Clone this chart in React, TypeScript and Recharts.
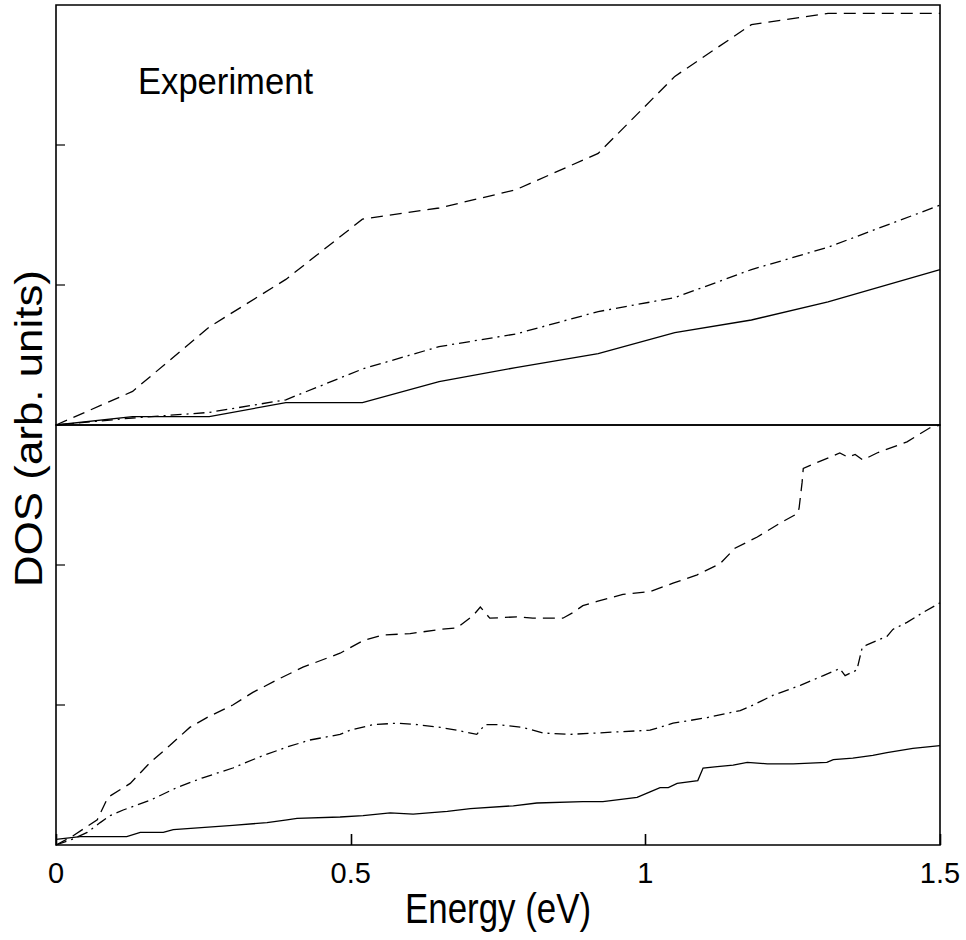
import { LineChart, Line, XAxis, YAxis, ReferenceArea, ReferenceLine } from "recharts"

// upper panel (Experiment): shared energy grid
const topEnergy = [0, 0.13, 0.26, 0.39, 0.52, 0.65, 0.78, 0.92, 1.05, 1.18, 1.31, 1.5]
const topDashed = [0, 0.24, 0.7, 1.04, 1.47, 1.55, 1.68, 1.94, 2.49, 2.86, 2.94, 2.94]
const topDashDot = [0, 0.05, 0.09, 0.18, 0.4, 0.56, 0.65, 0.81, 0.91, 1.11, 1.27, 1.57]
const topSolid = [0, 0.06, 0.06, 0.16, 0.16, 0.31, 0.41, 0.51, 0.66, 0.75, 0.88, 1.11]

// lower panel: each curve has its own energy samples
const lowDashedE = [0, 0.027, 0.07, 0.088, 0.126, 0.16, 0.193, 0.227, 0.256, 0.3, 0.334, 0.38, 0.419, 0.482, 0.521, 0.555, 0.601, 0.652, 0.68, 0.708, 0.72, 0.736, 0.782, 0.809, 0.86, 0.877, 0.894, 0.918, 0.962, 1.008, 1.047, 1.088, 1.127, 1.152, 1.19, 1.229, 1.259, 1.261, 1.266, 1.268, 1.296, 1.33, 1.344, 1.356, 1.369, 1.393, 1.444, 1.483, 1.5]
const lowDashedDos = [0, 0.06, 0.18, 0.34, 0.44, 0.59, 0.71, 0.84, 0.91, 1.0, 1.09, 1.19, 1.27, 1.37, 1.46, 1.5, 1.51, 1.54, 1.55, 1.64, 1.7, 1.62, 1.63, 1.62, 1.62, 1.66, 1.71, 1.74, 1.79, 1.81, 1.87, 1.93, 2.01, 2.12, 2.2, 2.3, 2.37, 2.41, 2.59, 2.69, 2.74, 2.8, 2.77, 2.79, 2.75, 2.8, 2.88, 2.98, 3.0]

const lowDashDotE = [0, 0.027, 0.053, 0.075, 0.092, 0.114, 0.16, 0.205, 0.249, 0.3, 0.346, 0.392, 0.431, 0.482, 0.499, 0.538, 0.579, 0.613, 0.652, 0.68, 0.714, 0.728, 0.748, 0.792, 0.826, 0.872, 0.918, 0.962, 1.008, 1.047, 1.105, 1.161, 1.178, 1.217, 1.263, 1.302, 1.33, 1.339, 1.359, 1.368, 1.376, 1.41, 1.42, 1.444, 1.471, 1.5]
const lowDashDotDos = [0, 0.04, 0.09, 0.16, 0.21, 0.25, 0.32, 0.41, 0.48, 0.55, 0.63, 0.7, 0.75, 0.79, 0.82, 0.86, 0.87, 0.86, 0.84, 0.82, 0.79, 0.86, 0.86, 0.84, 0.8, 0.79, 0.8, 0.81, 0.82, 0.87, 0.91, 0.96, 0.99, 1.07, 1.14, 1.21, 1.26, 1.21, 1.25, 1.41, 1.43, 1.49, 1.54, 1.59, 1.66, 1.73]

const lowSolidE = [0, 0.041, 0.12, 0.143, 0.182, 0.199, 0.3, 0.358, 0.392, 0.409, 0.482, 0.521, 0.567, 0.606, 0.664, 0.703, 0.776, 0.816, 0.894, 0.928, 0.986, 1.008, 1.025, 1.039, 1.054, 1.089, 1.098, 1.122, 1.149, 1.173, 1.207, 1.251, 1.308, 1.319, 1.352, 1.386, 1.41, 1.454, 1.5]
const lowSolidDos = [0.04, 0.06, 0.06, 0.09, 0.09, 0.11, 0.14, 0.16, 0.18, 0.19, 0.2, 0.21, 0.23, 0.22, 0.24, 0.26, 0.28, 0.3, 0.31, 0.31, 0.34, 0.38, 0.41, 0.41, 0.44, 0.46, 0.55, 0.56, 0.57, 0.59, 0.58, 0.58, 0.59, 0.61, 0.62, 0.64, 0.66, 0.69, 0.71]

const xTicks = [0, 0.5, 1, 1.5]
const yTicks = [1, 2]
const X_MAX = 1.5

const zip = (e: number[], v: number[]) => e.map((x, i) => ({ x, y: v[i] }))

const topRows = topEnergy.map((x, i) => ({ x, dashed: topDashed[i], dashdot: topDashDot[i], solid: topSolid[i] }))
const lowDashed = zip(lowDashedE, lowDashedDos)
const lowDashDot = zip(lowDashDotE, lowDashDotDos)
const lowSolid = zip(lowSolidE, lowSolidDos)

// page layout
const W = 966
const M_LEFT = 56
const M_RIGHT = 26
const PLOT_W = W - M_LEFT - M_RIGHT
const LOW_TOP = 420
const PANEL_H = 420
const LOW_BOTTOM = LOW_TOP + 5 + PANEL_H

const FONT = '"Liberation Sans", Arial, Helvetica, sans-serif'
const DASHED = "12 7"
const DASHDOT = "11 5 2 5"
const LW = 1.3

// short inward mark at the left end of a horizontal reference line
const LeftMark = (p: any) => {
  const x = Math.min(p.x1, p.x2)
  return <path d={`M${x},${p.y1}h9`} stroke="#000" strokeWidth={1.2} fill="none" />
}

const XLabel = (props: any) => (
  <text x={props.x} y={props.y + 38} textAnchor="middle" fontSize={29} fontFamily={FONT} fill="#000">
    {props.payload.value}
  </text>
)

function PanelFrame() {
  return [
    <ReferenceArea key="box" x1={0} x2={X_MAX} y1={0} y2={3} fill="none" fillOpacity={0} stroke="#000" strokeWidth={1.6} />,
    ...yTicks.map((v) => <ReferenceLine key={`y${v}`} y={v} shape={LeftMark} />),
  ]
}

export default function App() {
  return (
    <div style={{ position: "absolute", left: 0, top: 0, width: W, height: 940, background: "#fff" }}>
      <div style={{ position: "absolute", left: 0, top: 0 }}>
        <LineChart width={W} height={430} data={topRows} margin={{ top: 5, right: M_RIGHT, bottom: 5, left: M_LEFT }}>
          <XAxis dataKey="x" type="number" domain={[0, X_MAX]} hide />
          <YAxis type="number" domain={[0, 3]} hide />
          {PanelFrame()}
          <Line dataKey="dashed" type="linear" stroke="#000" strokeWidth={LW} strokeDasharray={DASHED} dot={false} isAnimationActive={false} />
          <Line dataKey="dashdot" type="linear" stroke="#000" strokeWidth={LW} strokeDasharray={DASHDOT} dot={false} isAnimationActive={false} />
          <Line dataKey="solid" type="linear" stroke="#000" strokeWidth={LW} dot={false} isAnimationActive={false} />
        </LineChart>
      </div>
      <div style={{ position: "absolute", left: 0, top: LOW_TOP }}>
        <LineChart width={W} height={520} margin={{ top: 5, right: M_RIGHT, bottom: 0, left: M_LEFT }}>
          <XAxis
            dataKey="x"
            type="number"
            domain={[0, X_MAX]}
            ticks={xTicks}
            height={95}
            tickSize={0}
            tickMargin={0}
            tickLine={false}
            axisLine={false}
            tick={<XLabel />}
          />
          <YAxis type="number" domain={[0, 3]} hide />
          {PanelFrame()}
          <Line data={lowDashed} dataKey="y" type="linear" stroke="#000" strokeWidth={LW} strokeDasharray={DASHED} dot={false} isAnimationActive={false} />
          <Line data={lowDashDot} dataKey="y" type="linear" stroke="#000" strokeWidth={LW} strokeDasharray={DASHDOT} dot={false} isAnimationActive={false} />
          <Line data={lowSolid} dataKey="y" type="linear" stroke="#000" strokeWidth={LW} dot={false} isAnimationActive={false} />
        </LineChart>
      </div>
      <svg width={W} height={940} style={{ position: "absolute", left: 0, top: 0, pointerEvents: "none" }}>
        {/* inward energy tick marks on the bottom edge */}
        {xTicks.map((v) => {
          const x = Math.round(M_LEFT + (PLOT_W * v) / X_MAX) + 0.5
          return <rect key={v} x={x - 0.8} y={LOW_BOTTOM - 11} width={1.6} height={11} fill="#000" />
        })}
        <text x={138} y={94} fontSize={36} fontFamily={FONT} fill="#000" textLength={175} lengthAdjust="spacingAndGlyphs">
          Experiment
        </text>
        <text x={405} y={923} fontSize={42} fontFamily={FONT} fill="#000" textLength={186} lengthAdjust="spacingAndGlyphs">
          Energy (eV)
        </text>
        <text
          x={0}
          y={0}
          transform="translate(42, 587) rotate(-90)"
          fontSize={38}
          fontFamily={FONT}
          fill="#000"
          textLength={317}
          lengthAdjust="spacingAndGlyphs"
        >
          DOS (arb. units)
        </text>
      </svg>
    </div>
  )
}
